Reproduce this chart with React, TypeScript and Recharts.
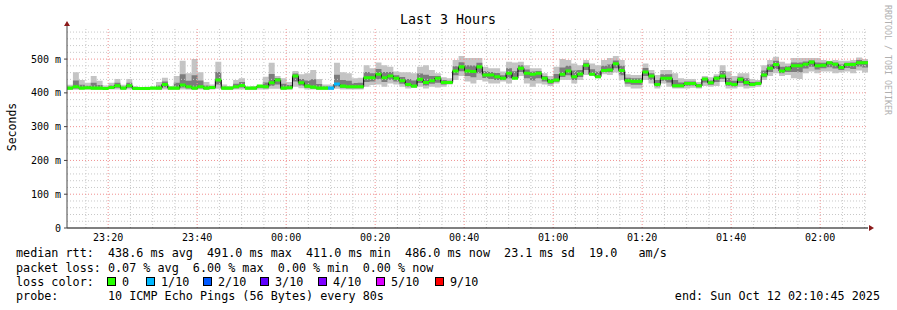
import React from "react";
import {
  ComposedChart,
  Area,
  Line,
  XAxis,
  YAxis,
  ReferenceLine,
  ReferenceDot,
} from "recharts";

const FONT = '"DejaVu Sans Mono", monospace';

// one step = 80 s, window 23:10:45 -> 02:10:45 (minutes from start)
const STEP_MIN = 80 / 60;

const median = [
  414, 418, 414, 415, 414, 414, 413, 416, 421, 414,
  421, 413, 413, 413, 414, 414, 425, 414, 414, 423,
  418, 414, 418, 414, 416, 438, 414, 414, 418, 422,
  414, 414, 420, 418, 430, 438, 414, 415, 450, 430,
  420, 417, 414, 414, 414, 426, 420, 418, 418, 418,
  445, 445, 455, 445, 450, 443, 436, 425, 420, 440,
  431, 436, 443, 431, 431, 465, 477, 465, 463, 477,
  453, 453, 448, 443, 458, 443, 473, 458, 455, 458,
  443, 434, 438, 455, 465, 448, 456, 482, 455, 448,
  466, 468, 486, 466, 436, 434, 434, 462, 450, 425,
  443, 443, 421, 421, 428, 428, 421, 441, 430, 443,
  450, 428, 425, 440, 431, 425, 428, 453, 473, 484,
  465, 471, 480, 480, 485, 491, 480, 482, 489, 485,
  475, 484, 484, 489, 489,
];

// outer smoke (fastest / slowest ping)
const smokeLo = [
  409, 409, 410, 409, 409, 409, 409, 410, 410, 409,
  410, 409, 410, 410, 410, 409, 410, 409, 409, 410,
  409, 409, 410, 409, 410, 412, 409, 409, 410, 410,
  409, 409, 410, 410, 412, 412, 409, 409, 418, 414,
  410, 410, 409, 409, 409, 412, 410, 410, 410, 410,
  418, 423, 425, 418, 428, 425, 418, 413, 415, 418,
  413, 418, 416, 418, 425, 438, 450, 434, 428, 438,
  434, 428, 428, 434, 428, 440, 450, 428, 418, 428,
  425, 420, 428, 438, 438, 428, 438, 453, 450, 443,
  455, 453, 460, 438, 418, 413, 413, 438, 428, 413,
  428, 418, 413, 413, 413, 415, 413, 420, 418, 420,
  432, 413, 413, 418, 413, 415, 418, 438, 450, 458,
  450, 453, 443, 441, 458, 463, 458, 463, 463, 458,
  460, 463, 458, 466, 460,
];
const smokeHi = [
  424, 461, 438, 430, 450, 436, 422, 430, 441, 424,
  441, 420, 416, 418, 418, 432, 445, 420, 450, 495,
  458, 500, 461, 432, 425, 492, 425, 420, 438, 443,
  418, 420, 422, 448, 489, 450, 443, 432, 465, 455,
  458, 468, 441, 425, 425, 489, 461, 458, 443, 445,
  482, 473, 490, 482, 477, 463, 461, 461, 458, 477,
  482, 468, 458, 446, 443, 497, 509, 503, 503, 503,
  477, 473, 473, 463, 492, 490, 492, 482, 473, 473,
  458, 450, 477, 500, 497, 487, 482, 497, 487, 482,
  497, 503, 509, 497, 455, 453, 453, 487, 468, 453,
  468, 468, 458, 443, 441, 441, 432, 450, 446, 455,
  482, 463, 450, 458, 458, 441, 438, 482, 497, 507,
  492, 487, 503, 503, 503, 503, 503, 497, 495, 497,
  495, 495, 497, 505, 500,
];

// inner smoke (middle pings)
const coreLo = [
  411, 413, 412, 412, 411, 411, 411, 413, 415, 411,
  415, 411, 411, 411, 412, 411, 417, 411, 411, 416,
  413, 411, 414, 411, 413, 425, 411, 411, 414, 416,
  411, 411, 415, 414, 421, 425, 411, 412, 434, 422,
  415, 413, 411, 411, 411, 419, 415, 414, 414, 414,
  432, 434, 440, 432, 439, 434, 427, 419, 418, 429,
  422, 427, 430, 425, 428, 452, 464, 450, 446, 458,
  444, 441, 438, 439, 443, 441, 462, 443, 437, 443,
  434, 427, 433, 447, 452, 438, 447, 468, 452, 445,
  461, 461, 473, 452, 427, 424, 424, 450, 439, 419,
  436, 431, 417, 417, 421, 422, 417, 431, 424, 432,
  441, 421, 419, 429, 422, 420, 423, 446, 462, 471,
  458, 462, 462, 461, 472, 477, 469, 473, 476, 472,
  468, 474, 471, 478, 475,
];
const coreHi = [
  418, 437, 424, 421, 430, 423, 417, 422, 430, 418,
  430, 416, 415, 415, 416, 422, 434, 417, 430, 455,
  436, 452, 437, 422, 420, 462, 419, 417, 427, 432,
  416, 417, 421, 431, 456, 444, 427, 423, 457, 441,
  437, 440, 426, 419, 419, 454, 438, 436, 429, 430,
  462, 458, 471, 462, 462, 452, 447, 441, 437, 457,
  454, 450, 450, 438, 436, 479, 491, 482, 481, 489,
  464, 462, 459, 452, 473, 464, 482, 469, 463, 465,
  450, 441, 456, 475, 480, 466, 468, 489, 470, 463,
  480, 484, 496, 480, 445, 443, 443, 474, 458, 438,
  455, 455, 438, 431, 434, 434, 426, 445, 437, 449,
  465, 444, 436, 448, 443, 432, 433, 466, 484, 495,
  477, 479, 490, 490, 493, 496, 490, 489, 492, 490,
  484, 489, 490, 497, 494,
];

// steps where 1 of 10 pings was lost
const lossSteps = [44, 45];

const tickMinutes = [9.25, 29.25, 49.25, 69.25, 89.25, 109.25, 129.25, 149.25, 169.25];
const tickLabels = ["23:20", "23:40", "00:00", "00:20", "00:40", "01:00", "01:20", "01:40", "02:00"];
const yTicks = [0, 100, 200, 300, 400, 500];

const lossLevels = ["0", "1/10", "2/10", "3/10", "4/10", "5/10", "9/10"];
const lossColors = ["#26ff00", "#00b8ff", "#0059ff", "#5e00ff", "#7e00ff", "#dd00ff", "#ff0000"];
const legendX = [107, 146, 203, 260, 318, 376, 435];

const rttLine =
  "median rtt:  438.6 ms avg  491.0 ms max  411.0 ms min  486.0 ms now  23.1 ms sd  19.0   am/s";
const lossLine = "packet loss: 0.07 % avg  6.00 % max  0.00 % min  0.00 % now";
const probeLine = "probe:       10 ICMP Echo Pings (56 Bytes) every 80s";
const endLine = "end: Sun Oct 12 02:10:45 2025";

// keep runs of spaces in svg text
const pre = (s: string) => s.replace(/ /g, "\u00a0");

const MARK = 4.5; // half height of the median marker, ms

const rows: any[] = median.map((m, i) => ({
  t: i * STEP_MIN,
  m,
  smoke: [smokeLo[i], smokeHi[i]],
  core: [coreLo[i], coreHi[i]],
  loss: lossSteps.includes(i) ? 1 : 0,
}));
rows.push({ ...rows[rows.length - 1], t: 180 });
rows.forEach((r, i) => {
  const prev = rows[i - 1] ?? r;
  const band = [r.m - MARK, r.m + MARK];
  r.g = r.loss === 0 || prev.loss === 0 ? band : null;
  r.b = r.loss === 1 || prev.loss === 1 ? band : null;
});

const minorX: number[] = [];
for (let t = 4.25; t < 180; t += 5) if (!tickMinutes.includes(t)) minorX.push(t);
const minorY: number[] = [];
for (let v = 20; v < 595; v += 20) if (v % 100) minorY.push(v);

const MINOR = "#c8c8c8";
const MAJOR = "#f09090";

export default function App() {
  return (
    <div style={{ position: "absolute", left: 0, top: 0, width: 897, height: 310, background: "#fff" }}>
      <ComposedChart
        width={897}
        height={310}
        data={rows}
        margin={{ top: 27, right: 29, bottom: 62, left: 10 }}
      >
        <XAxis
          type="number"
          dataKey="t"
          domain={[0, 180]}
          ticks={tickMinutes}
          interval={0}
          allowDataOverflow
          tickFormatter={(v) => tickLabels[tickMinutes.indexOf(v)]}
          height={20}
          tickLine={false}
          tickSize={2}
          tickMargin={4}
          axisLine={{ stroke: "#000" }}
          tick={{ fontSize: 10, fill: "#000", fontFamily: FONT }}
        />
        <YAxis
          type="number"
          domain={[0, 595]}
          ticks={yTicks}
          interval={0}
          allowDataOverflow
          width={57}
          tickSize={3}
          tickMargin={3}
          tickFormatter={(v) => (v === 0 ? "0" : `${v} m`)}
          axisLine={{ stroke: "#444" }}
          tickLine={{ stroke: "#444" }}
          tick={{ fontSize: 10, fill: "#000", fontFamily: FONT }}
        />
        {minorY.map((v) => (
          <ReferenceLine key={"my" + v} y={v} stroke={MINOR} strokeDasharray="1 2" />
        ))}
        {minorX.map((t) => (
          <ReferenceLine key={"mx" + t} x={t} stroke={MINOR} strokeDasharray="1 2" />
        ))}
        {yTicks.slice(1).map((v) => (
          <ReferenceLine key={"My" + v} y={v} stroke={MAJOR} strokeDasharray="1 2" />
        ))}
        {tickMinutes.map((t) => (
          <ReferenceLine key={"Mx" + t} x={t} stroke={MAJOR} strokeDasharray="1 2" />
        ))}
        <Area type="stepAfter" dataKey="smoke" stroke="none" fill="#c4c4c4" fillOpacity={1} isAnimationActive={false} />
        <Area type="stepAfter" dataKey="core" stroke="none" fill="#7c7c7c" fillOpacity={1} isAnimationActive={false} />
        <Line type="stepAfter" dataKey="m" stroke="#000" strokeWidth={1} dot={false} isAnimationActive={false} />
        <Area
          type="stepAfter"
          dataKey="g"
          stroke="none"
          fill={lossColors[0]}
          fillOpacity={1}
          isAnimationActive={false}
          zIndex={450}
        />
        <Area
          type="stepAfter"
          dataKey="b"
          stroke="none"
          fill={lossColors[1]}
          fillOpacity={1}
          isAnimationActive={false}
          zIndex={450}
        />
        <ReferenceDot
          x={0}
          y={595}
          r={0}
          ifOverflow="visible"
          shape={(p: any) => (
            <g>
              <line x1={p.cx} y1={p.cy} x2={p.cx} y2={p.cy - 2} stroke="#444" />
              <path d={`M${p.cx - 3},${p.cy - 1} L${p.cx + 3},${p.cy - 1} L${p.cx},${p.cy - 6} Z`} fill="#8b1a1a" />
            </g>
          )}
        />
        <ReferenceDot
          x={180}
          y={0}
          r={0}
          ifOverflow="visible"
          shape={(p: any) => (
            <path d={`M${p.cx + 1},${p.cy - 3} L${p.cx + 1},${p.cy + 3} L${p.cx + 6},${p.cy} Z`} fill="#8b1a1a" />
          )}
        />
      </ComposedChart>

      <svg
        width={897}
        height={310}
        style={{ position: "absolute", left: 0, top: 0, pointerEvents: "none" }}
        fontFamily={FONT}
      >
        <text x={448} y={24} textAnchor="middle" fontSize={13.3} fill="#000">
          Last 3 Hours
        </text>
        <text transform="translate(15.5,127) rotate(-90)" textAnchor="middle" fontSize={11.5} fill="#000">
          Seconds
        </text>
        <text transform="translate(885,60) rotate(90)" textAnchor="middle" fontSize={8.3} fill="#b0b0b0">
          RRDTOOL / TOBI OETIKER
        </text>
        <g fontSize={11.75} fill="#000">
          <text x={16} y={257}>{pre(rttLine)}</text>
          <text x={16} y={272}>{pre(lossLine)}</text>
          <text x={16} y={286}>{pre("loss color:")}</text>
          <text x={16} y={300}>{pre(probeLine)}</text>
          <text x={880} y={300} textAnchor="end">{pre(endLine)}</text>
          {lossLevels.map((lv, i) => (
            <g key={lv}>
              <rect x={legendX[i] + 0.5} y={277.5} width={8} height={8} fill={lossColors[i]} stroke="#000" />
              <text x={legendX[i] + 15} y={286}>{lv}</text>
            </g>
          ))}
        </g>
      </svg>
    </div>
  );
}
